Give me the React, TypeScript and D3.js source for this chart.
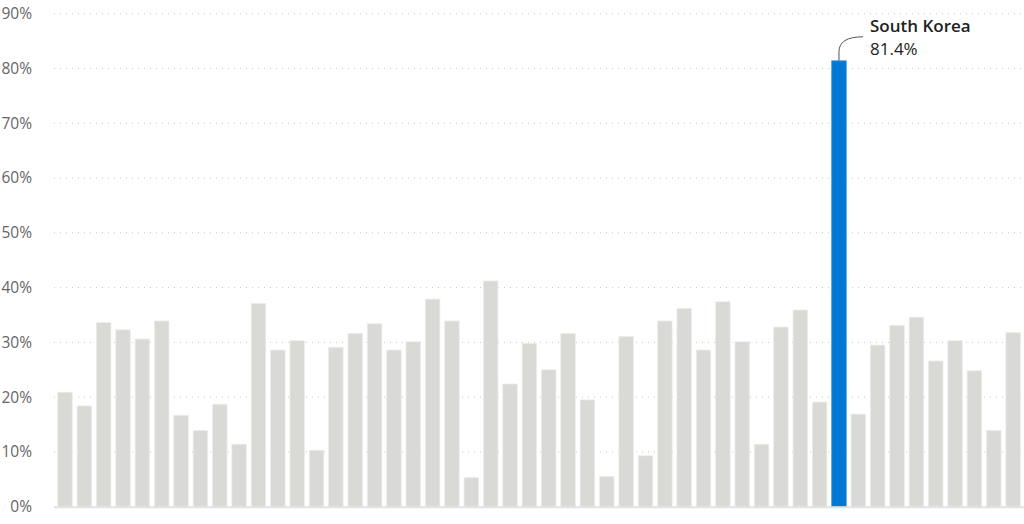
import React from 'react';
import * as d3 from 'd3';

/* ── Data ──────────────────────────────────────────────────────── */
const values: number[] = [
  20.9, 18.4, 33.6, 32.3, 30.6, 33.9, 16.7, 13.9, 18.7, 11.4,
  37.1, 28.6, 30.3, 10.3, 29.1, 31.6, 33.4, 28.6, 30.1, 37.9,
  33.9, 5.3, 41.2, 22.4, 29.8, 25.0, 31.6, 19.5, 5.5, 31.1,
  9.3, 33.9, 36.2, 28.6, 37.4, 30.1, 11.4, 32.8, 35.9, 19.1,
  81.4, 16.9, 29.5, 33.1, 34.6, 26.6, 30.3, 24.8, 13.9, 31.8,
];
const highlightIndex = 40;
const highlightName = 'South Korea';
const yTicks: number[] = [0, 10, 20, 30, 40, 50, 60, 70, 80, 90];

const W = 1024;
const H = 524;
const FONT = "'Open Sans', 'Noto Sans', sans-serif";

export default function App() {
  const x = d3
    .scaleBand<number>()
    .domain(values.map((_, i) => i))
    .range([55.3, 1022.8])
    .paddingInner(0.25)
    .paddingOuter(0.125);

  const y = d3.scaleLinear().domain([0, 90]).range([506.7, 13.7]);

  const hv = values[highlightIndex];
  const hx = x(highlightIndex)! + x.bandwidth() / 2;
  const hy = y(hv);
  const tx = hx + 31;

  return (
    <div style={{ position: 'absolute', left: 0, top: 0 }}>
      <svg width={W} height={H} style={{ display: 'block', fontFamily: FONT }}>
        {/* grid + y labels */}
        {yTicks.map(t => (
          <g key={t}>
            {t > 0 && (
              <line
                x1={54}
                x2={W}
                y1={y(t)}
                y2={y(t)}
                stroke="#c8c8c8"
                strokeWidth={1}
                strokeDasharray="1 5"
              />
            )}
            <text
              x={32}
              y={y(t)}
              dy="0.35em"
              textAnchor="end"
              fontSize={15.5}
              fill="#666"
            >
              {t}%
            </text>
          </g>
        ))}

        {/* bars */}
        {values.map((v, i) => {
          const hi = i === highlightIndex;
          return (
            <rect
              key={i}
              x={x(i)}
              y={y(v)}
              width={x.bandwidth()}
              height={y(0) - y(v)}
              fill={hi ? '#0078d4' : '#d9d9d5'}
              stroke={hi ? '#3f96dd' : '#ececea'}
              strokeWidth={0.8}
            />
          );
        })}

        {/* baseline */}
        <line x1={54} x2={W} y1={y(0) + 0.5} y2={y(0) + 0.5} stroke="#e2e2e2" strokeWidth={2} />

        {/* annotation */}
        <path
          d={`M${hx},${hy} L${hx},${hy - 9} Q${hx},${hy - 24} ${hx + 24},${hy - 24}`}
          fill="none"
          stroke="#555"
          strokeWidth={1}
        />
        <text x={tx} y={32} fontSize={17} fontWeight={600} fill="#222">
          {highlightName}
        </text>
        <text x={tx} y={55} fontSize={17} fill="#222">
          {d3.format('.1f')(hv)}%
        </text>
      </svg>
    </div>
  );
}
